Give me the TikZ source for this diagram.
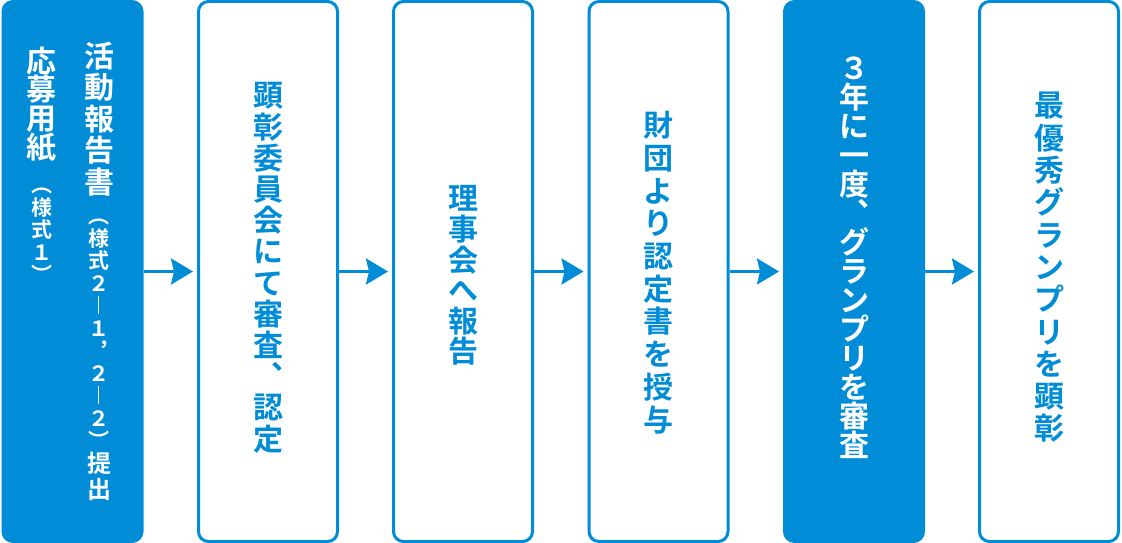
\documentclass[tikz,border=0pt]{standalone}
\usepackage{fontspec}
\newfontfamily\jp[BoldFont={Noto Sans CJK JP Bold}]{Noto Sans CJK JP}
\usepackage{xcolor}
\definecolor{flowblue}{HTML}{008CD6}
\usetikzlibrary{positioning,arrows.meta}
% one glyph per line, top to bottom, each in a full em cell
\makeatletter
\newcommand\tate[2][30pt]{\vbox{\baselineskip=#1\relax\lineskiplimit=-\maxdimen
  \tate@#2\@nil}}
\def\tate@#1{\ifx\@nil#1\else
  \hbox to 1em{\hss\vrule height .88em depth .12em width 0pt\relax#1\hss}%
  \expandafter\tate@\fi}
\makeatother

\begin{document}
\begin{tikzpicture}[x=1pt, y=-1pt,
    every node/.style={font=\jp\bfseries\fontsize{30}{30}\selectfont},
    stepfill/.style={draw=flowblue, fill=flowblue, line width=3pt,
                     rounded corners=10pt, minimum width=139pt, minimum height=540pt},
    stepbox/.style={draw=flowblue, fill=white, line width=3pt,
                    rounded corners=10pt, minimum width=139pt, minimum height=540pt},
    vtext/.style={inner sep=0pt},
    note/.style={inner sep=0pt, font=\jp\bfseries\fontsize{21}{21}\selectfont},
    arr/.style={-{Stealth[length=22pt, width=26pt, inset=3pt]}, draw=flowblue,
                line width=3pt, shorten >=4pt}]
  \useasboundingbox (0,0) rectangle (1122,543);
  % boxes
  \node[stepfill] (apply)  at (72.5,271.5) {};
  \node[stepbox]  (review) at (268,271.5)  {};
  \node[stepbox]  (board)  at (463,271.5)  {};
  \node[stepbox]  (cert)   at (658.5,271.5) {};
  \node[stepfill] (grand)  at (854,271.5)  {};
  \node[stepbox]  (award)  at (1049,271.5) {};
  % first box: two columns, right one first
  \node[vtext, text=white, anchor=north] (repA) at (99,40.5) {\tate[31.5pt]{活動報告書}};
  \node[note, text=white, below=8pt of repA] (repB) {\tate[22.5pt]{︵様式２︱１︐２︱２︶}};
  \node[vtext, text=white, below=0pt of repB, font=\jp\bfseries\fontsize{24}{24}\selectfont]
    (repC) {\tate[25.5pt]{提出}};
  \node[vtext, text=white, anchor=north] (formA) at (42,45.5) {\tate[28.7pt]{応募用紙}};
  \node[note, text=white, below=12pt of formA] (formB) {\tate[22.5pt]{︵様式１︶}};
  % other texts
  \node[vtext, text=flowblue] (reviewT) at (268,267)   {\tate[31.2pt]{顕彰委員会にて審査︑認定}};
  \node[vtext, text=flowblue] (boardT)  at (463,275)   {\tate[30.6pt]{理事会へ報告}};
  \node[vtext, text=flowblue] (certT)   at (658.5,272.5) {\tate[32.7pt]{財団より認定書を授与}};
  \node[vtext, text=white]    (grandT)  at (854,257)   {\tate[29pt]{３年に一度︑グランプリを審査}};
  \node[vtext, text=flowblue] (awardT)  at (1049,267)  {\tate[32.3pt]{最優秀グランプリを顕彰}};
  % arrows
  \draw[arr] (apply) -- (review);
  \draw[arr] (review) -- (board);
  \draw[arr] (board) -- (cert);
  \draw[arr] (cert) -- (grand);
  \draw[arr] (grand) -- (award);
\end{tikzpicture}
\end{document}
